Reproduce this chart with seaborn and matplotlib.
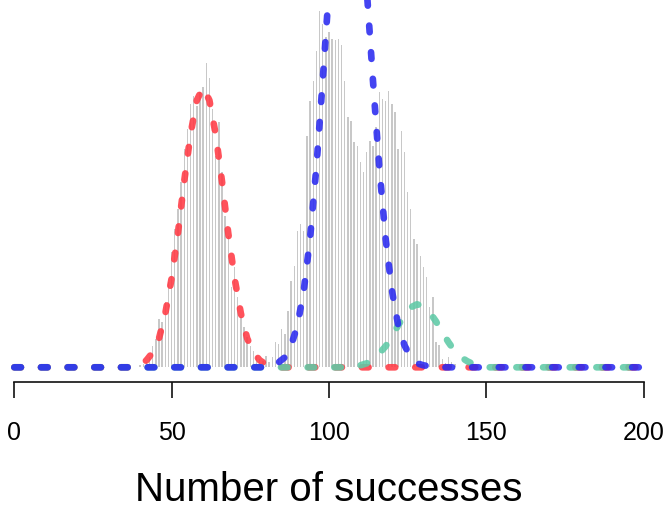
import numpy as np
import pandas as pd
import matplotlib
matplotlib.use("Agg")
import matplotlib.pyplot as plt
import seaborn as sns

sns.set_style("ticks")
plt.rcParams['font.family'] = ['Liberation Sans', 'DejaVu Sans']
plt.rcParams['text.color'] = 'black'
plt.rcParams['axes.labelcolor'] = 'black'
plt.rcParams['xtick.color'] = 'black'

succ = list(range(40, 141))
counts = [2, 3, 5, 10, 21, 28, 48, 45, 65, 85,
          115, 138, 158, 185, 218, 238, 263, 271, 261, 275,
          280, 304, 289, 258, 211, 245, 195, 151, 131, 80,
          100, 70, 50, 40, 30, 21, 16, 11, 8, 6,
          11, 5, 10, 25, 23, 38, 33, 56, 86, 101,
          136, 143, 136, 231, 266, 286, 316, 356, 343, 330,
          335, 328, 327, 328, 322, 286, 250, 246, 225, 221,
          205, 195, 215, 226, 221, 240, 275, 268, 266, 276,
          263, 255, 218, 236, 215, 175, 158, 128, 123, 111,
          100, 90, 60, 70, 25, 22, 8, 4, 10, 5,
          3]

# expected curves
red_x = [0, 38, 40, 42, 44, 46, 48, 50, 52, 54, 56, 58, 60, 62, 64, 66, 68,
         70, 72, 74, 76, 78, 80, 82, 84, 200]
red_y = [0, 0, 3, 7, 15, 29, 54, 89, 134, 186, 233, 267, 280, 267, 233, 186, 134,
         89, 54, 29, 15, 7, 3, 1, 0, 0]
blue_x = [0, 82, 84, 86, 88, 90, 92, 94, 96, 98, 100, 102, 104, 106, 108, 110,
          112, 114, 116, 118, 120, 122, 124, 126, 128, 130, 132, 134, 200]
blue_y = [0, 0, 5, 10, 22, 42, 77, 129, 200, 286, 378, 461, 519, 540, 519, 461,
          378, 286, 200, 129, 77, 42, 22, 10, 4, 2, 1, 0, 0]
teal_x = [0, 108, 110, 112, 114, 116, 118, 120, 122, 124, 126, 128, 130, 132,
          134, 136, 138, 140, 142, 144, 146, 148, 150, 200]
teal_y = [0, 0, 2, 4, 8, 14, 21, 31, 42, 52, 60, 63, 61, 55,
          46, 35, 25, 16, 10, 6, 3, 1, 0, 0]

hist_df = pd.DataFrame({'k': succ, 'n': counts})

fig = plt.figure(figsize=(6.67, 5.09), dpi=100)
ax = fig.add_axes([0.02144, 0.2489, 0.9435, 0.7511])

sns.barplot(data=hist_df, x='k', y='n', native_scale=True, width=0.45,
            color='#c8c8c8', saturation=1, errorbar=None, linewidth=0, ax=ax)

dash = (0, (1.0, 3.0))
for xs, ys, col in [(red_x, red_y, '#ff3a44'),
                    (teal_x, teal_y, '#5fcaa6'),
                    (blue_x, blue_y, '#2a2af0')]:
    sns.lineplot(x=xs, y=ys, color=col, linewidth=4.8, linestyle=dash,
                 dash_capstyle='round', alpha=0.88, clip_on=False,
                 errorbar=None, ax=ax)

ax.set_xlim(0, 200)
ax.set_ylim(-15, 367.3)
ax.set_xticks([0, 50, 100, 150, 200])
ax.set_yticks([])
for s in ['left', 'right', 'top']:
    ax.spines[s].set_visible(False)
ax.spines['bottom'].set_linewidth(1.2)
ax.spines['bottom'].set_color('#111111')
ax.tick_params(axis='x', length=11.5, width=1.2, color='#111111',
               labelsize=18, pad=16)
ax.set_ylabel('')
ax.set_xlabel('Number of successes', fontsize=29, labelpad=19)
ax.set_facecolor('white')

fig.savefig('out.png', dpi=100)
